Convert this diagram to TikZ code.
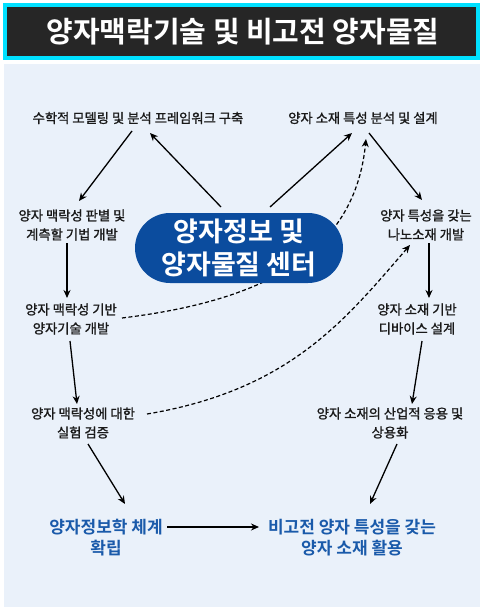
\documentclass[tikz,border=0pt]{standalone}
\usepackage{fontspec}
\setmainfont{Noto Sans CJK KR}
\newfontfamily\krbold{Noto Sans CJK KR Bold}
\newfontfamily\krmed[FakeBold=1.3]{Noto Sans CJK KR}
\usetikzlibrary{arrows.meta}
\definecolor{panelbg}{HTML}{EAF1FA}
\definecolor{titlebg}{HTML}{262626}
\definecolor{titleframe}{HTML}{00E0FF}
\definecolor{blobblue}{HTML}{0B4C9E}
\definecolor{textblue}{HTML}{1A5AAA}
\begin{document}
\begin{tikzpicture}[x=1pt,y=-1pt,
  lbl/.style={align=center,font=\krmed\fontsize{13.3}{19}\selectfont,text=black!90,inner sep=1pt},
  goal/.style={align=center,font=\krbold\fontsize{17}{21}\selectfont,text=textblue,inner sep=1pt},
  arr/.style={-{Stealth[length=8pt,width=7pt]},line width=1.3pt,black},
  darr/.style={-{Stealth[length=8pt,width=7pt]},line width=1.2pt,black,dash pattern=on 4pt off 2.5pt}]
\useasboundingbox (0,0) rectangle (483,610);
\fill[white] (0,0) rectangle (483,610);
\fill[panelbg] (4,64) rectangle (480,607);
\draw[titleframe,line width=3.5pt,fill=titlebg] (5,5) rectangle (478,58);
\node[font=\krbold\fontsize{29}{32}\selectfont,text=white] (title) at (243,32) {양자맥락기술 및 비고전 양자물질};

\node[lbl] (math) at (138,118) {수학적 모델링 및 분석 프레임워크 구축};
\node[lbl] (mat) at (363,118) {양자 소재 특성 분석 및 설계};
\node[lbl] (ctx) at (72,225) {양자 맥락성 판별 및\\계측할 기법 개발};
\node[lbl] (nano) at (426,225) {양자 특성을 갖는\\나노소재 개발};
\node[lbl] (tech) at (71,319) {양자 맥락성 기반\\양자기술 개발};
\node[lbl] (dev) at (417,319) {양자 소재 기반\\디바이스 설계};
\node[lbl] (exp) at (83,423) {양자 맥락성에 대한\\실험 검증};
\node[lbl] (ind) at (390,423) {양자 소재의 산업적 응용 및\\상용화};
\node[goal] (sys) at (106,538) {양자정보학 체계\\확립};
\node[goal] (use) at (352,538) {비고전 양자 특성을 갖는\\양자 소재 활용};

\coordinate (ta) at (122,318);
\coordinate (ea) at (366,139);
\coordinate (tb) at (147,414);
\coordinate (eb) at (410,245);
\draw[darr] (ta) .. controls (270,300) and (355,250) .. (ea);
\draw[darr] (tb) .. controls (290,390) and (345,320) .. (eb);

\node[fill=blobblue,rounded corners=35pt,minimum width=208pt,minimum height=70pt,
  align=center,text=white,font=\krbold\fontsize{27}{33}\selectfont] (center) at (239,248) {양자정보 및\\양자물질 센터};

\coordinate (m1) at (132,131);
\coordinate (m2) at (79,201);
\draw[arr] (m1) -- (m2);
\coordinate (c1) at (221,207);
\coordinate (c2) at (150,133);
\draw[arr] (c1) -- (c2);
\coordinate (c3) at (270,207);
\coordinate (c4) at (352,133);
\draw[arr] (c3) -- (c4);
\coordinate (s1) at (369,133);
\coordinate (s2) at (422,200);
\draw[arr] (s1) -- (s2);
\draw[arr] (67,243) -- (67,298);
\draw[arr] (429,243) -- (429,298);
\draw[arr] (70,341) -- (77,404);
\draw[arr] (422,341) -- (412,404);
\draw[arr] (88,444) -- (125,504);
\draw[arr] (397,444) -- (370,504);
\coordinate (h1) at (167,527);
\coordinate (h2) at (259,527);
\draw[arr] (h1) -- (h2);
\end{tikzpicture}
\end{document}
